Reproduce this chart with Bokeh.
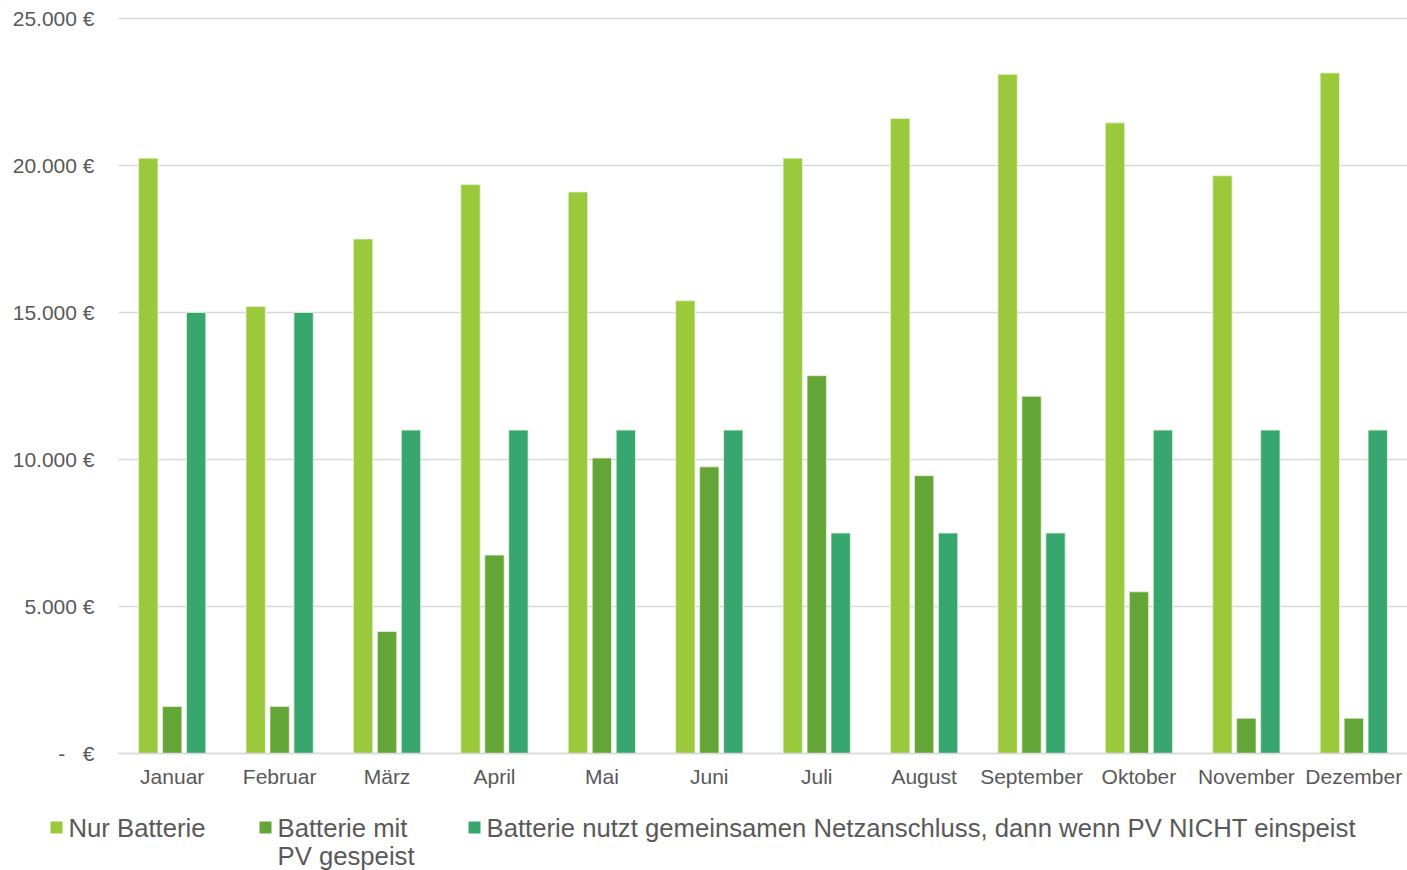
from bokeh.plotting import figure
from bokeh.models import Range1d, FixedTicker
from bokeh.embed import file_html
from bokeh.resources import INLINE
from bokeh.core.properties import value

months = ["Januar", "Februar", "März", "April", "Mai", "Juni", "Juli",
          "August", "September", "Oktober", "November", "Dezember"]
nur_batterie = [20250, 15200, 17500, 19350, 19100, 15400, 20250, 21600, 23100, 21450, 19650, 23150]
batterie_pv = [1600, 1600, 4150, 6750, 10050, 9750, 12850, 9450, 12150, 5500, 1200, 1200]
batterie_netz = [15000, 15000, 11000, 11000, 11000, 11000, 7500, 7500, 7500, 11000, 11000, 11000]
series_names = ["Nur Batterie", "Batterie mit\nPV gespeist",
                "Batterie nutzt gemeinsamen Netzanschluss, dann wenn PV NICHT einspeist"]
colors = ["#9ACA3C", "#63A537", "#37A76F"]
y_ticks = [0, 5000, 10000, 15000, 20000, 25000]
y_tick_labels = ["-\u00a0\u00a0\u00a0€", "5.000 €", "10.000 €", "15.000 €", "20.000 €", "25.000 €"]

FONT = "Liberation Sans"
TXT = "#595959"
GRID = "#D9D9D9"

# layout geometry (pixels)
W, H = 1407, 870
FL, FT, FB = 118, 18, 753
YMAX = 25000
n = len(months)
cat_w = (W - FL) / n
ppu = (FB - FT) / YMAX


def dx(px):
    return (px - FL) / cat_w


def dy(py):
    return (FB - py) / ppu


p = figure(x_range=Range1d(dx(0), dx(W)), y_range=Range1d(dy(H), dy(0)),
           width=W, height=H, output_backend="svg", toolbar_location=None,
           min_border=0, min_border_left=0, min_border_right=0,
           min_border_top=0, min_border_bottom=0)
p.outline_line_color = None
p.background_fill_color = "white"
p.xgrid.visible = False
p.ygrid.visible = False

# horizontal grid lines over the plotting area only
p.segment(x0=[0] * len(y_ticks), x1=[n] * len(y_ticks), y0=y_ticks, y1=y_ticks,
          line_color=GRID, line_width=1.5)

centers = [i + 0.5 for i in range(n)]
w = 0.18
for vals, off, col in zip([nur_batterie, batterie_pv, batterie_netz], [-0.223, 0.0, 0.223], colors):
    p.vbar(x=[c + off for c in centers], top=vals, bottom=0, width=w,
           fill_color=col, line_color="#E8F3D8", line_width=0.8)

# y axis
yax = p.yaxis[0]
yax.fixed_location = 0
yax.bounds = (0, YMAX)
yax.ticker = FixedTicker(ticks=y_ticks)
yax.major_label_overrides = {t: l for t, l in zip(y_ticks, y_tick_labels)}
yax.axis_line_color = None
yax.major_tick_line_color = None
yax.minor_tick_line_color = None
yax.major_label_text_font = FONT
yax.major_label_text_font_size = "21px"
yax.major_label_text_color = TXT
yax.major_label_standoff = 18

# x axis
xax = p.xaxis[0]
xax.fixed_location = 0
xax.bounds = (0, n)
xax.ticker = FixedTicker(ticks=centers)
xax.major_label_overrides = {c: m for c, m in zip(centers, months)}
xax.axis_line_color = GRID
xax.axis_line_width = 1.5
xax.major_tick_line_color = None
xax.minor_tick_line_color = None
xax.major_label_text_font = FONT
xax.major_label_text_font_size = "21px"
xax.major_label_text_color = TXT
xax.major_label_standoff = 5

# legend
leg_x = [50, 259, 468]
row_y = 827
line_h = 28
sq = 12
for i, (name, col) in enumerate(zip(series_names, colors)):
    p.quad(left=[dx(leg_x[i])], right=[dx(leg_x[i] + sq)],
           top=[dy(row_y - sq / 2)], bottom=[dy(row_y + sq / 2)],
           fill_color=col, line_color=None)
    lines = name.split("\n")
    p.text(x=[dx(leg_x[i] + sq + 6)] * len(lines),
           y=[dy(row_y + line_h * k) for k in range(len(lines))], text=lines,
           text_font=value(FONT), text_font_size="25.7px", text_color=TXT,
           text_baseline="middle", text_align="left")

open("out.html", "w").write(file_html(p, INLINE))
